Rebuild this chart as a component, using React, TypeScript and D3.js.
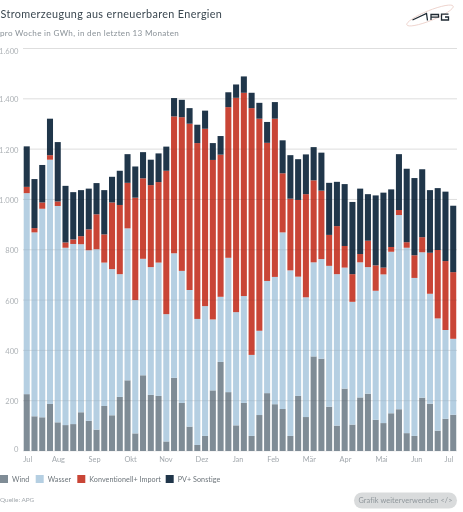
import React from "react";
import * as d3 from "d3";

const weeks = d3.range(56);
const windValues = [226,138,134,187,114,103,107,154,120,85,179,142,215,281,70,301,223,219,38,291,191,97,24,60,241,354,234,102,191,60,143,230,186,167,60,219,135,376,367,176,101,248,105,213,228,124,111,150,166,71,60,212,188,81,128,144];
const waterValues = [799,731,829,971,860,705,716,668,678,717,570,581,488,604,530,463,508,530,506,495,525,543,501,516,282,259,534,450,425,322,335,446,506,702,658,474,476,374,396,560,602,481,488,537,503,513,591,642,772,737,628,578,437,446,353,302];
const convValues = [25,17,25,18,18,21,18,32,83,139,112,265,275,181,407,320,326,320,570,544,611,661,699,705,634,565,599,852,808,981,843,549,629,235,285,305,410,326,272,123,191,86,110,33,105,101,27,19,20,22,90,60,163,272,274,265];
const pvValues = [161,195,149,145,236,225,188,183,162,124,176,102,136,114,124,104,101,114,96,73,69,62,73,72,67,74,59,53,65,61,63,83,66,131,173,162,158,132,151,207,176,246,287,260,185,278,298,229,222,292,307,270,249,246,276,264];
const seriesKeys = ["Wind", "Wasser", "Konventionell+ Import", "PV+ Sonstige"];
const seriesColors = ["#7f8c96", "#b5cfe2", "#c94536", "#20364a"];
const yTicks = [0, 200, 400, 600, 800, 1000, 1200, 1400, 1600];
const monthLabels = ["Jul","Aug","Sep","Okt","Nov","Dez","Jan","Feb","Mär","Apr","Mai","Jun","Jul"];
const monthPositions = [0.13,4.1,8.75,13.4,17.95,22.6,27.25,31.8,36.45,41.1,45.75,50.3,54.45];
const legendOffsets = [0, 35.7, 77.3, 165.7];
const title = "Stromerzeugung aus erneuerbaren Energien";
const subtitle = "pro Woche in GWh, in den letzten 13 Monaten";
const source = "Quelle: APG";
const buttonText = "Grafik weiterverwenden </>";

const rows = weeks.map((i) => ({
  i,
  Wind: windValues[i],
  Wasser: waterValues[i],
  "Konventionell+ Import": convValues[i],
  "PV+ Sonstige": pvValues[i],
}));

const font = "Lato, 'Open Sans', sans-serif";

export default function App() {
  const x = d3.scaleBand<number>().domain(weeks).range([22.85, 457.1]).paddingInner(0.22).paddingOuter(0.11);
  const y = d3.scaleLinear().domain([0, 1600]).range([451, 48.5]);
  const stack = d3.stack<any>().keys(seriesKeys)(rows);
  const monthX = d3.scaleLinear().domain([0, 55]).range([x(0)! + x.bandwidth() / 2, x(55)! + x.bandwidth() / 2]);
  const labelShift = (t: number) => (t === 1600 ? 5.5 : t === 0 ? 1.3 : 3.5);

  return (
    <svg width={463} height={512} style={{ position: "absolute", left: 0, top: 0, background: "#fff" }} fontFamily={font}>
      <text x={0.5} y={18} fontSize={10.8} letterSpacing={0.36} fill="#3a4750">{title}</text>
      <text x={0} y={36} fontSize={8.1} letterSpacing={0.3} fill="#8a9298">{subtitle}</text>

      <g>
        <ellipse cx={430} cy={15.5} rx={25} ry={5} fill="none" stroke="#eccfc8" strokeWidth={0.8} transform="rotate(-22 430 15.5)" />
        <path d="M412.5 20 L426.5 13.5 L427.5 20.5 M431 20 V14.5 H438.5 V17.2 H431.5 M448.5 14.2 H441.5 V20 H448.5 V17 H445" fill="none" stroke="#1f2a33" strokeWidth={1.3} />
      </g>

      {yTicks.map((t) => (
        <g key={t}>
          <line x1={23} x2={457} y1={y(t)} y2={y(t)} stroke="#e7e7e7" strokeWidth={0.8} />
          <text x={18.5} y={y(t) + labelShift(t)} textAnchor="end" fontSize={7.6} fill="#aeb3b7">
            {t === 0 ? "0" : d3.format(",")(t).replace(",", ".")}
          </text>
        </g>
      ))}

      {stack.map((s, si) => (
        <g key={s.key} fill={seriesColors[si]}>
          {s.map((d, j) => (
            <rect key={j} x={x(j)} width={x.bandwidth()} y={y(d[1])} height={y(d[0]) - y(d[1])} />
          ))}
        </g>
      ))}

      <g style={{ mixBlendMode: "multiply" }}>
        {yTicks.filter((t) => t > 0).map((t) => (
          <line key={t} x1={23} x2={457} y1={y(t)} y2={y(t)} stroke="#ececec" strokeWidth={0.8} />
        ))}
      </g>

      {monthLabels.map((m, i) => (
        <text key={i} x={monthX(monthPositions[i])} y={461.5} textAnchor="middle" fontSize={7.4} fill="#a3a9ae">{m}</text>
      ))}

      {seriesKeys.map((k, i) => (
        <g key={k} transform={`translate(${legendOffsets[i]},0)`}>
          <rect y={475} width={8} height={8} fill={seriesColors[i]} />
          <text x={12} y={482} fontSize={7.2} letterSpacing={0.05} fill="#6d757b">{k}</text>
        </g>
      ))}

      <text x={0} y={502} fontSize={6.4} fill="#a3a9ae">{source}</text>
      <rect x={354} y={492.5} width={103} height={16} rx={8} fill="#d9dbdc" />
      <text x={405.5} y={503} textAnchor="middle" fontSize={7.3} letterSpacing={0.12} fill="#8f969b">{buttonText}</text>
    </svg>
  );
}
